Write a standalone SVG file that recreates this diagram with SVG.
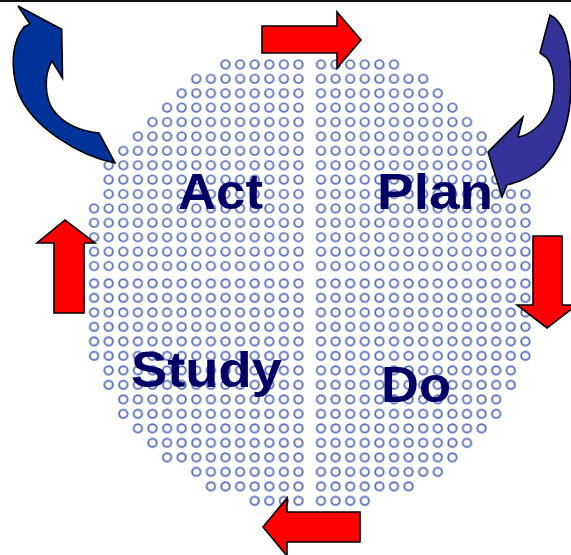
<svg xmlns="http://www.w3.org/2000/svg" width="571" height="555" viewBox="0 0 571 555">
  <style>
    .label { font-family: "Liberation Sans", Arial, sans-serif; font-weight: bold; font-size: 50px; fill: #000066; }
    .red { fill: #ff0000; stroke: #000; stroke-width: 1.6; stroke-linejoin: miter; }
    .turn { stroke: #000; stroke-width: 1.6; stroke-linejoin: miter; }
    .ring { fill: none; stroke: #5c6fb6; stroke-width: 1.9; }
  </style>
  <defs>
    <!-- ring grid, one pattern per quarter so that the quarters sit a little apart -->
    <pattern id="dotsTL" patternUnits="userSpaceOnUse" x="291.2" y="258.8" width="14.6" height="14.4">
      <circle class="ring" cx="7.3" cy="7.2" r="4.2"/>
    </pattern>
    <pattern id="dotsTR" patternUnits="userSpaceOnUse" x="313.7" y="258.8" width="14.6" height="14.4">
      <circle class="ring" cx="7.3" cy="7.2" r="4.2"/>
    </pattern>
    <pattern id="dotsBL" patternUnits="userSpaceOnUse" x="291.2" y="276.05" width="14.6" height="14.5">
      <circle class="ring" cx="7.3" cy="7.25" r="4.2"/>
    </pattern>
    <pattern id="dotsBR" patternUnits="userSpaceOnUse" x="313.7" y="276.05" width="14.6" height="14.5">
      <circle class="ring" cx="7.3" cy="7.25" r="4.2"/>
    </pattern>
  </defs>

  <rect width="571" height="555" fill="#ffffff"/>
  <rect x="0" y="0" width="571" height="2" fill="#111111"/>

  <!-- each quarter is built from row bands holding whole rings only -->
  <g id="act">
    <g fill="url(#dotsTL)">
      <rect x="218.2" y="57.2" width="87.6" height="14.4"/>
      <rect x="189.0" y="71.6" width="116.8" height="14.4"/>
      <rect x="174.4" y="86.0" width="131.4" height="14.4"/>
      <rect x="159.8" y="100.4" width="146" height="14.4"/>
      <rect x="145.2" y="114.8" width="160.6" height="14.4"/>
      <rect x="130.6" y="129.2" width="175.2" height="14.4"/>
      <rect x="116.0" y="143.6" width="189.8" height="14.4"/>
      <rect x="101.4" y="158.0" width="204.4" height="43.2"/>
      <rect x="86.8" y="201.2" width="219" height="57.6"/>
      <rect x="72.2" y="258.8" width="233.6" height="14.4"/>
    </g>
    <text class="label" x="178" y="209" textLength="85" lengthAdjust="spacingAndGlyphs">Act</text>
  </g>
  <g id="plan">
    <g fill="url(#dotsTR)">
      <rect x="313.7" y="57.2" width="87.6" height="14.4"/>
      <rect x="313.7" y="71.6" width="116.8" height="14.4"/>
      <rect x="313.7" y="86.0" width="131.4" height="14.4"/>
      <rect x="313.7" y="100.4" width="146" height="14.4"/>
      <rect x="313.7" y="114.8" width="160.6" height="14.4"/>
      <rect x="313.7" y="129.2" width="175.2" height="14.4"/>
      <rect x="313.7" y="143.6" width="189.8" height="14.4"/>
      <rect x="313.7" y="158.0" width="204.4" height="28.8"/>
      <rect x="313.7" y="186.8" width="219" height="57.6"/>
      <rect x="313.7" y="244.4" width="233.6" height="28.8"/>
    </g>
    <text class="label" x="377" y="209" textLength="116" lengthAdjust="spacingAndGlyphs">Plan</text>
  </g>
  <g id="study">
    <g fill="url(#dotsBL)">
      <rect x="72.2" y="276.05" width="233.6" height="29"/>
      <rect x="86.8" y="305.05" width="219" height="58"/>
      <rect x="101.4" y="363.05" width="204.4" height="29"/>
      <rect x="116.0" y="392.05" width="189.8" height="29"/>
      <rect x="130.6" y="421.05" width="175.2" height="14.5"/>
      <rect x="145.2" y="435.55" width="160.6" height="14.5"/>
      <rect x="159.8" y="450.05" width="146" height="14.5"/>
      <rect x="189.0" y="464.55" width="116.8" height="14.5"/>
      <rect x="203.6" y="479.05" width="102.2" height="14.5"/>
      <rect x="247.4" y="493.55" width="58.4" height="14.5"/>
    </g>
    <text class="label" x="131" y="387" textLength="151" lengthAdjust="spacingAndGlyphs">Study</text>
  </g>
  <g id="do">
    <g fill="url(#dotsBR)">
      <rect x="313.7" y="276.05" width="233.6" height="29"/>
      <rect x="313.7" y="305.05" width="219" height="58"/>
      <rect x="313.7" y="363.05" width="204.4" height="29"/>
      <rect x="313.7" y="392.05" width="189.8" height="29"/>
      <rect x="313.7" y="421.05" width="175.2" height="14.5"/>
      <rect x="313.7" y="435.55" width="160.6" height="14.5"/>
      <rect x="313.7" y="450.05" width="146" height="14.5"/>
      <rect x="313.7" y="464.55" width="131.4" height="14.5"/>
      <rect x="313.7" y="479.05" width="102.2" height="14.5"/>
      <rect x="313.7" y="493.55" width="58.4" height="14.5"/>
    </g>
    <text class="label" x="381" y="402" textLength="70" lengthAdjust="spacingAndGlyphs">Do</text>
  </g>

  <g id="connectors">
    <!-- arrow along the top -->
    <path class="red" d="M262,26 L337,26 L337,12 L361,40 L337,68 L337,53 L262,53 Z"/>
    <!-- curved arrow into Plan -->
    <path class="turn" fill="#333399" d="M550,15 C565,22 571,45 571,83 C571,120 562,148 543,167 C533,176 520,182 507,185 L502,197 L488,152 L523,117 L518,137 C530,135 542,125 549,111 C556,95 556,70 547,58 L540,53 Z"/>
    <!-- down the right side -->
    <path class="red" d="M533,236 L562,236 L562,305 L577,305 L547,328 L517,305 L533,305 Z"/>
    <!-- along the bottom -->
    <path class="red" d="M360,512 L287,512 L287,498 L263,527 L287,556 L287,542 L360,542 Z"/>
    <!-- up the left side -->
    <path class="red" d="M54,313 L54,243 L37,243 L65,220 L95,243 L84,243 L84,313 Z"/>
    <!-- curved arrow out of Act -->
    <path class="turn" fill="#003399" d="M18,6 L61.7,29.3 L62.5,78 L52,61 C44,74 44,98 54,111 C64,124 80,131 99,133 L115,163 C80,156 32,128 18,92 C10,66 12,42 24,27 L30,24 Z"/>
  </g>
</svg>
